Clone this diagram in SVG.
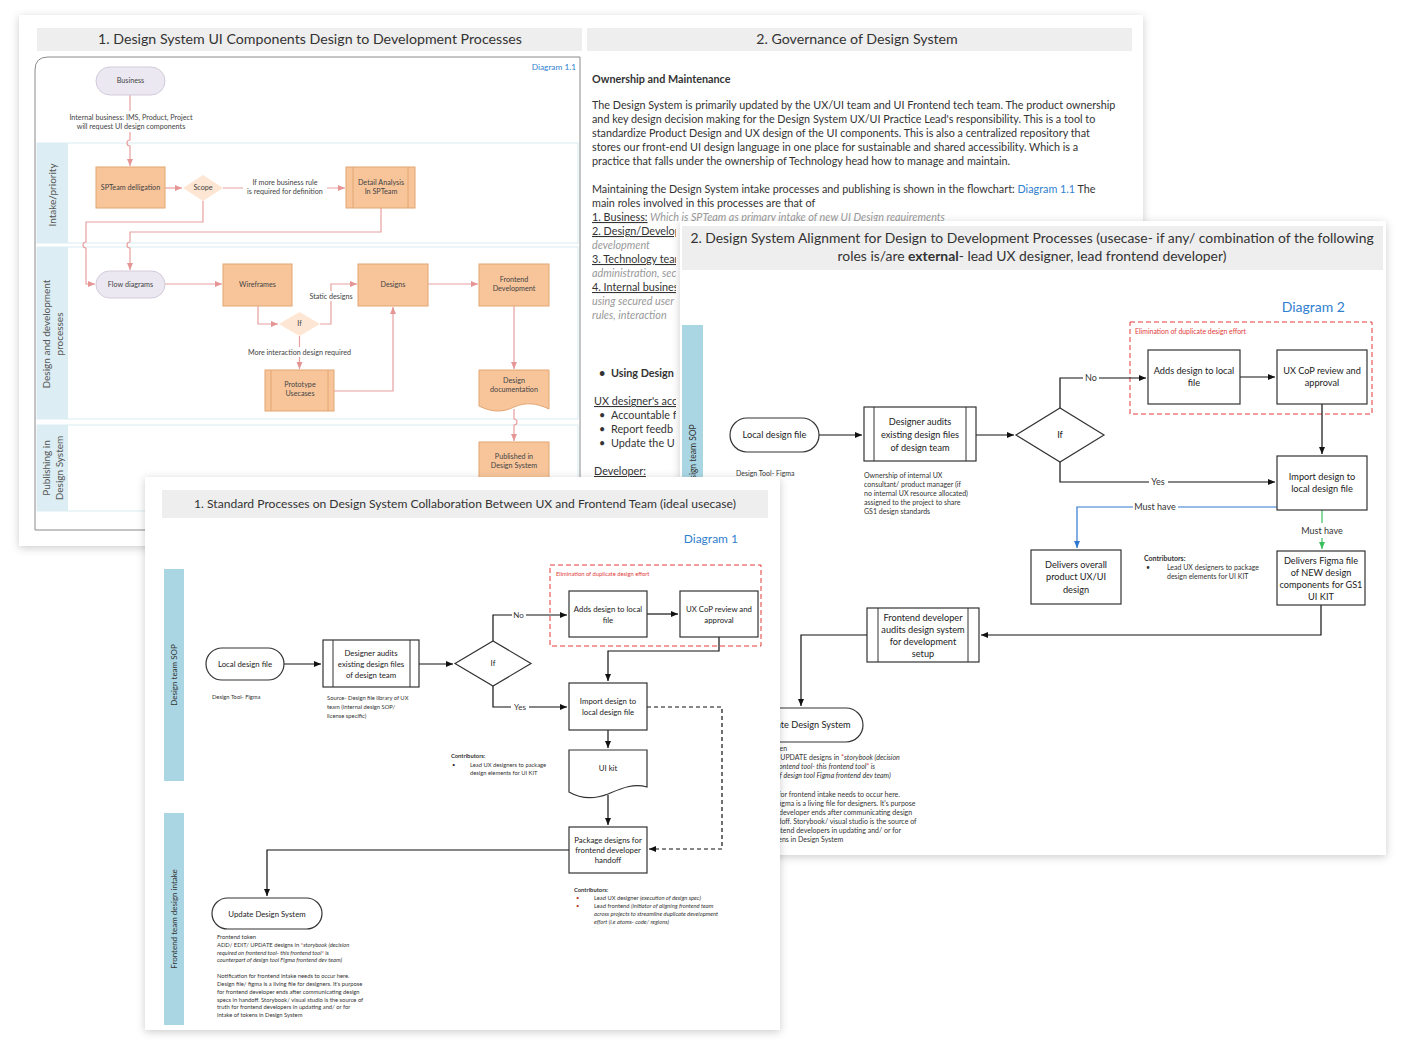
<svg xmlns="http://www.w3.org/2000/svg" width="1404" height="1054" viewBox="0 0 1404 1054">
<defs>
<filter id="sh" x="-5%" y="-5%" width="110%" height="112%">
<feDropShadow dx="0" dy="2" stdDeviation="4" flood-color="#000" flood-opacity="0.2"/>
</filter>
<marker id="ap" markerUnits="userSpaceOnUse" markerWidth="8" markerHeight="8" refX="7" refY="4" orient="auto"><path d="M0,1 L7,4 L0,7 z" fill="#e69595"/></marker>
<marker id="ak" markerUnits="userSpaceOnUse" markerWidth="8" markerHeight="8" refX="7" refY="4" orient="auto"><path d="M0,1 L7,4 L0,7 z" fill="#111"/></marker>
<marker id="ab" markerUnits="userSpaceOnUse" markerWidth="8" markerHeight="8" refX="7" refY="4" orient="auto"><path d="M0,1 L7,4 L0,7 z" fill="#2f78d0"/></marker>
<marker id="ag" markerUnits="userSpaceOnUse" markerWidth="8" markerHeight="8" refX="7" refY="4" orient="auto"><path d="M0,1 L7,4 L0,7 z" fill="#3cbf5f"/></marker>
<clipPath id="clipA"><rect x="585" y="222" width="91" height="260"/></clipPath>
</defs>
<style>
text{font-family:Lato,"Liberation Sans",sans-serif;fill:#333}
.hdr{font-size:14.2px;text-anchor:middle}
.p{font-size:10.8px;fill:#333}
.it{font-style:italic;fill:#999}
.u{text-decoration:underline}
.ca{fill:none;stroke:#e9a0a0;stroke-width:1.2}
.na{fill:#f8c59b;stroke:#e2a673;stroke-width:1}
.da{fill:#fde6d3;stroke:none}
.pa{fill:#ece8f1;stroke:#d2cbdb;stroke-width:1}
.ta{font-size:7.2px;text-anchor:middle;fill:#444}
.lane{fill:none;stroke:#d9ebf2;stroke-width:1}
.bandA{fill:#dcedf3}
.lt{font-size:10px;fill:#555;text-anchor:middle}
.ck{fill:none;stroke:#111;stroke-width:1.2}
.nb{fill:#fff;stroke:#333;stroke-width:1.2}
.tb{font-size:9.2px;text-anchor:middle;fill:#222}
.tc{font-size:7.8px;text-anchor:middle;fill:#222}
.sb{font-size:7px;fill:#333}
.sc{font-size:5.8px;fill:#333}
.band{fill:#aad6e3}
.red{fill:none;stroke:#e23b3b;stroke-width:1;stroke-dasharray:5,3}
.blue{fill:#2f80cf}
</style>

<!-- ================= PAGE A ================= -->
<g id="pageA">
<rect x="19" y="15" width="1124" height="531" fill="#fff" filter="url(#sh)"/>
<rect x="37" y="28" width="545" height="23" fill="#eeeeee"/>
<text class="hdr" x="310" y="44">1. Design System UI Components Design to Development Processes</text>
<rect x="587" y="28" width="545" height="23" fill="#eeeeee"/>
<text class="hdr" x="857" y="44">2. Governance of Design System</text>
<path d="M35,530 V70 Q35,57 48,57 H580 V530 Z" fill="none" stroke="#8a8a8a" stroke-width="1"/>
<text x="576" y="70" font-size="8.3" text-anchor="end" class="blue">Diagram 1.1</text>

<g id="lanesA">
<rect class="lane" x="37" y="143" width="541" height="100"/>
<rect class="bandA" x="37" y="143" width="31" height="100"/>
<text class="lt" transform="translate(56,195) rotate(-90)">Intake/priority</text>
<rect class="lane" x="37" y="247" width="541" height="172"/>
<rect class="bandA" x="37" y="247" width="31" height="172"/>
<text class="lt" transform="translate(50,334) rotate(-90)">Design and development</text>
<text class="lt" transform="translate(63,334) rotate(-90)">processes</text>
<rect class="lane" x="37" y="425" width="541" height="86"/>
<rect class="bandA" x="37" y="425" width="31" height="86"/>
<text class="lt" transform="translate(50,468) rotate(-90)">Publishing in</text>
<text class="lt" transform="translate(63,468) rotate(-90)">Design System</text>
</g>

<g id="connectorsA">
<path class="ca" d="M130,95 V111 M130,132 V140 a3,3 0 0 0 0,6 V166" marker-end="url(#ap)"/>
<path class="ca" d="M165,188 H182" marker-end="url(#ap)"/>
<path class="ca" d="M223,188 H243 M327,188 H345" marker-end="url(#ap)"/>
<path class="ca" d="M203,201 V222 H86 V242 a3,3 0 0 0 0,6 V284 H95" marker-end="url(#ap)"/>
<path class="ca" d="M381,208 V232 H130 V242 a3,3 0 0 0 0,6 V270" marker-end="url(#ap)"/>
<path class="ca" d="M165,284 H222" marker-end="url(#ap)"/>
<path class="ca" d="M258,306 V324 H278" marker-end="url(#ap)"/>
<path class="ca" d="M320,324 H331 V301 M331,291 V284 H357" marker-end="url(#ap)"/>
<path class="ca" d="M299.5,336 V347 M299.5,357 V369" marker-end="url(#ap)"/>
<path class="ca" d="M334,391 H393 V307" marker-end="url(#ap)"/>
<path class="ca" d="M428,284 H478" marker-end="url(#ap)"/>
<path class="ca" d="M514,306 V369" marker-end="url(#ap)"/>
<path class="ca" d="M514,409 V419 a3,3 0 0 1 0,6 V441" marker-end="url(#ap)"/>
<text class="ta" x="131" y="120">Internal business: IMS, Product, Project</text>
<text class="ta" x="131" y="129">will request UI design components</text>
<text class="ta" x="285" y="185">If more business rule</text>
<text class="ta" x="285" y="194">is required for definition</text>
<text class="ta" x="331" y="299">Static designs</text>
<text class="ta" x="299.5" y="355">More interaction design required</text>
</g>

<g id="a-business"><rect class="pa" x="96" y="67" width="69" height="28" rx="14"/><text class="ta" x="130.5" y="83">Business</text></g>
<g id="a-spteam"><rect class="na" x="96" y="167" width="69" height="41"/><text class="ta" x="130.5" y="190">SPTeam delligation</text></g>
<g id="a-scope"><polygon class="da" points="183,188 203,175 223,188 203,201"/><text class="ta" x="203" y="190">Scope</text></g>
<g id="a-detail"><rect class="na" x="346" y="167" width="69" height="41"/><path d="M353,167 V208 M408,167 V208" stroke="#e2a673" fill="none"/><text class="ta" x="381" y="185">Detail Analysis</text><text class="ta" x="381" y="194">In SPTeam</text></g>
<g id="a-flow"><rect class="pa" x="96" y="271" width="69" height="27" rx="13.5"/><text class="ta" x="130.5" y="287">Flow diagrams</text></g>
<g id="a-wire"><rect class="na" x="223" y="264" width="69" height="42"/><text class="ta" x="257.5" y="287">Wireframes</text></g>
<g id="a-if"><polygon class="da" points="279,324 299.5,312 320,324 299.5,336"/><text class="ta" x="299.5" y="326">If</text></g>
<g id="a-designs"><rect class="na" x="358" y="264" width="70" height="42"/><text class="ta" x="393" y="287">Designs</text></g>
<g id="a-frontend"><rect class="na" x="479" y="264" width="70" height="42"/><text class="ta" x="514" y="282">Frontend</text><text class="ta" x="514" y="291">Development</text></g>
<g id="a-proto"><rect class="na" x="265" y="370" width="69" height="41"/><path d="M271,370 V411 M328,370 V411" stroke="#e2a673" fill="none"/><text class="ta" x="300" y="387">Prototype</text><text class="ta" x="300" y="396">Usecases</text></g>
<g id="a-doc"><path class="na" d="M479,370 H549 V409 C536,403 526,402 514,407 C502,413 491,412 479,406 Z"/><text class="ta" x="514" y="383">Design</text><text class="ta" x="514" y="392">documentation</text></g>
<g id="a-published"><rect class="na" x="479" y="442" width="70" height="40"/><text class="ta" x="514" y="459">Published in</text><text class="ta" x="514" y="468">Design System</text></g>

<g id="a-text">
<text class="p" x="592" y="83" font-weight="bold" font-size="10.4">Ownership and Maintenance</text>
<text class="p" x="592" y="109">The Design System is primarily updated by the UX/UI team and UI Frontend tech team. The product ownership</text>
<text class="p" x="592" y="123">and key design decision making for the Design System UX/UI Practice Lead's responsibility. This is a tool to</text>
<text class="p" x="592" y="137">standardize Product Design and UX design of the UI components. This is also a centralized repository that</text>
<text class="p" x="592" y="151">stores our front-end UI design language in one place for sustainable and shared accessibility. Which is a</text>
<text class="p" x="592" y="165">practice that falls under the ownership of Technology head how to manage and maintain.</text>
<text class="p" x="592" y="193">Maintaining the Design System intake processes and publishing is shown in the flowchart: <tspan class="blue">Diagram 1.1</tspan> The</text>
<text class="p" x="592" y="207">main roles involved in this processes are that of</text>
<text class="p" x="592" y="221"><tspan class="u">1. Business:</tspan><tspan class="it"> Which is SPTeam as primary intake of new UI Design requirements</tspan></text>
<g clip-path="url(#clipA)">
<text class="p u" x="592" y="235">2. Design/Develop</text>
<text class="p it" x="592" y="249">development</text>
<text class="p u" x="592" y="263">3. Technology team</text>
<text class="p it" x="592" y="277">administration, sec</text>
<text class="p u" x="592" y="291">4. Internal busines</text>
<text class="p it" x="592" y="305">using secured user</text>
<text class="p it" x="592" y="319">rules, interaction</text>
<text class="p" x="599" y="377" font-weight="bold">•</text>
<text class="p" x="611" y="377" font-weight="bold">Using Design</text>
<text class="p u" x="594" y="405">UX designer's acc</text>
<text class="p" x="599" y="419">•</text><text class="p" x="611" y="419">Accountable f</text>
<text class="p" x="599" y="433">•</text><text class="p" x="611" y="433">Report feedb</text>
<text class="p" x="599" y="447">•</text><text class="p" x="611" y="447">Update the U</text>
<text class="p u" x="594" y="475">Developer:</text>
</g>
</g>
</g>

<!-- ================= PAGE B ================= -->
<g id="pageB">
<rect x="680" y="221" width="706" height="634" fill="#fff" filter="url(#sh)"/>
<rect x="682" y="226" width="701" height="44" fill="#eeeeee"/>
<text x="1032" y="243" font-size="13.9" text-anchor="middle">2. Design System Alignment for Design to Development Processes (usecase- if any/ combination of the following</text>
<text x="1032" y="261" font-size="13.9" text-anchor="middle">roles is/are <tspan font-weight="bold">external</tspan>- lead UX designer, lead frontend developer)</text>
<text x="1345" y="312" font-size="14" text-anchor="end" class="blue">Diagram 2</text>
<rect class="band" x="682" y="325" width="21" height="380"/>
<text font-size="8.5" text-anchor="middle" transform="translate(696,457) rotate(-90)">Design team SOP</text>
<rect class="red" x="1130" y="322" width="242" height="92"/>
<text x="1135" y="334" font-size="6.9" style="fill:#e23b3b">Elimination of duplicate design effort</text>

<g id="connectorsB">
<path class="ck" d="M819,435 H862" marker-end="url(#ak)"/>
<path class="ck" d="M976,435 H1014" marker-end="url(#ak)"/>
<path class="ck" d="M1060,408 V378 H1083 M1099,378 H1146" marker-end="url(#ak)"/>
<path class="ck" d="M1240,377 H1275" marker-end="url(#ak)"/>
<path class="ck" d="M1322,404 V454" marker-end="url(#ak)"/>
<path class="ck" d="M1060,462 V482 H1149 M1168,482 H1275" marker-end="url(#ak)"/>
<path d="M1277,507 H1178 M1133,507 H1077 V548" fill="none" stroke="#2f78d0" stroke-width="1.2" marker-end="url(#ab)"/>
<path d="M1322,510 V523 M1322,538 V549" fill="none" stroke="#3cbf5f" stroke-width="1.2" marker-end="url(#ag)"/>
<path class="ck" d="M1321,605 V635 H981" marker-end="url(#ak)"/>
<path class="ck" d="M867,635 H801 V706" marker-end="url(#ak)"/>
<text x="1091" y="381" font-size="9" text-anchor="middle">No</text>
<text x="1158" y="485" font-size="9" text-anchor="middle">Yes</text>
<text x="1155" y="510" font-size="9" text-anchor="middle">Must have</text>
<text x="1322" y="534" font-size="9" text-anchor="middle">Must have</text>
</g>

<g id="b-local"><rect class="nb" x="730" y="418" width="89" height="34" rx="17"/><text class="tb" x="774.5" y="438">Local design file</text></g>
<text class="sb" x="736" y="476" font-size="6">Design Tool- Figma</text>
<g id="b-audits"><rect class="nb" x="864" y="407" width="112" height="54"/><path d="M874,407 V461 M966,407 V461" stroke="#333" fill="none"/><text class="tb" x="920" y="425">Designer audits</text><text class="tb" x="920" y="438">existing design files</text><text class="tb" x="920" y="451">of design team</text></g>
<g id="b-owner-note">
<text class="sb" x="864" y="478">Ownership of internal UX</text>
<text class="sb" x="864" y="487">consultant/ product manager (if</text>
<text class="sb" x="864" y="496">no internal UX resource allocated)</text>
<text class="sb" x="864" y="505">assigned to the project to share</text>
<text class="sb" x="864" y="514">GS1 design standards</text>
</g>
<g id="b-if"><polygon class="nb" points="1016,435 1060,408 1104,435 1060,462"/><text class="tb" x="1060" y="438">If</text></g>
<g id="b-adds"><rect class="nb" x="1148" y="350" width="92" height="54"/><text class="tb" x="1194" y="374">Adds design to local</text><text class="tb" x="1194" y="386">file</text></g>
<g id="b-uxcop"><rect class="nb" x="1277" y="350" width="90" height="54"/><text class="tb" x="1322" y="374">UX CoP review and</text><text class="tb" x="1322" y="386">approval</text></g>
<g id="b-import"><rect class="nb" x="1277" y="456" width="90" height="54"/><text class="tb" x="1322" y="480">Import design to</text><text class="tb" x="1322" y="492">local design file</text></g>
<g id="b-overall"><rect class="nb" x="1031" y="550" width="90" height="54"/><text class="tb" x="1076" y="568">Delivers overall</text><text class="tb" x="1076" y="580">product UX/UI</text><text class="tb" x="1076" y="593">design</text></g>
<g id="b-contrib">
<text class="sb" x="1144" y="561" font-weight="bold">Contributors:</text>
<text class="sb" x="1146" y="570">•</text>
<text class="sb" x="1167" y="570" font-size="7.4">Lead UX designers to package</text>
<text class="sb" x="1167" y="579" font-size="7.4">design elements for UI KIT</text>
</g>
<g id="b-figma"><rect class="nb" x="1277" y="551" width="88" height="54"/><text class="tb" x="1321" y="564">Delivers Figma file</text><text class="tb" x="1321" y="576">of NEW design</text><text class="tb" x="1321" y="588">components for GS1</text><text class="tb" x="1321" y="600">UI KIT</text></g>
<g id="b-frontend"><rect class="nb" x="867" y="608" width="112" height="54"/><path d="M878,608 V662 M968,608 V662" stroke="#333" fill="none"/><text class="tb" x="923" y="621" font-size="9.6">Frontend developer</text><text class="tb" x="923" y="633" font-size="9.6">audits design system</text><text class="tb" x="923" y="645" font-size="9.6">for development</text><text class="tb" x="923" y="657" font-size="9.6">setup</text></g>
<g id="b-update"><rect class="nb" x="739" y="708" width="124" height="34" rx="17"/><text class="tb" x="805" y="728" font-size="9.6">Update Design System</text></g>
<g id="b-notes">
<text class="sb" x="740" y="751" font-size="7">Frontend token</text>
<text class="sb" x="740" y="760" font-size="7">ADD/ EDIT/ UPDATE designs in <tspan style="fill:#e23b3b">*</tspan><tspan font-style="italic">storybook (decision</tspan></text>
<text class="sb" x="740" y="769" font-size="7" font-style="italic">required on frontend tool- this frontend tool<tspan style="fill:#e23b3b">*</tspan> is</text>
<text class="sb" x="740" y="778" font-size="7" font-style="italic">counterpart of design tool Figma frontend dev team)</text>
<text class="sb" x="740" y="797" font-size="7">Notification for frontend intake needs to occur here.</text>
<text class="sb" x="740" y="806" font-size="7">Design file/ figma is a living file for designers. It's purpose</text>
<text class="sb" x="740" y="815" font-size="7">for frontend developer ends after communicating design</text>
<text class="sb" x="740" y="824" font-size="7">specs in handoff. Storybook/ visual studio is the source of</text>
<text class="sb" x="740" y="833" font-size="7">truth for frontend developers in updating and/ or for</text>
<text class="sb" x="740" y="842" font-size="7">intake of tokens in Design System</text>
</g>
</g>

<!-- ================= PAGE C ================= -->
<g id="pageC">
<rect x="145" y="477" width="635" height="553" fill="#fff" filter="url(#sh)"/>
<rect x="162" y="490" width="606" height="28" fill="#eeeeee"/>
<text x="465" y="508" font-size="12.1" text-anchor="middle">1. Standard Processes on Design System Collaboration Between UX and Frontend Team (ideal usecase)</text>
<text x="738" y="543" font-size="12" text-anchor="end" class="blue">Diagram 1</text>
<rect class="band" x="164" y="569" width="20" height="212"/>
<text font-size="8" text-anchor="middle" transform="translate(177,675) rotate(-90)">Design team SOP</text>
<rect class="band" x="164" y="813" width="20" height="212"/>
<text font-size="8" text-anchor="middle" transform="translate(177,919) rotate(-90)">Frontend team design intake</text>
<rect class="red" x="550" y="565" width="211" height="81"/>
<text x="556" y="576" font-size="5.8" style="fill:#e23b3b">Elimination of duplicate design effort</text>

<g id="connectorsC">
<path class="ck" d="M284,664 H321" marker-end="url(#ak)"/>
<path class="ck" d="M419,664 H453" marker-end="url(#ak)"/>
<path class="ck" d="M493,641 V615 H512 M526,615 H567" marker-end="url(#ak)"/>
<path class="ck" d="M647,614 H678" marker-end="url(#ak)"/>
<path class="ck" d="M719,637 V651 H608 V681" marker-end="url(#ak)"/>
<path class="ck" d="M493,686 V707 H511 M529,707 H567" marker-end="url(#ak)"/>
<path class="ck" d="M647,707 H722 V849 H649" stroke-dasharray="4,3" marker-end="url(#ak)"/>
<path class="ck" d="M608,730 V748" marker-end="url(#ak)"/>
<path class="ck" d="M608,795 V825" marker-end="url(#ak)"/>
<path class="ck" d="M569,850 H267 V896" marker-end="url(#ak)"/>
<text x="518.5" y="618" font-size="8" text-anchor="middle">No</text>
<text x="520" y="710" font-size="8" text-anchor="middle">Yes</text>
</g>

<g id="c-local"><rect class="nb" x="206" y="648" width="78" height="32" rx="16"/><text class="tc" x="245" y="667">Local design file</text></g>
<text class="sc" x="212" y="699">Design Tool- Figma</text>
<g id="c-audits"><rect class="nb" x="323" y="640" width="96" height="47"/><path d="M333,640 V687 M410,640 V687" stroke="#333" fill="none"/><text class="tc" x="371" y="656">Designer audits</text><text class="tc" x="371" y="667">existing design files</text><text class="tc" x="371" y="678">of design team</text></g>
<g id="c-source">
<text class="sc" x="327" y="700">Source- Design file library of UX</text>
<text class="sc" x="327" y="709">team (internal design SOP/</text>
<text class="sc" x="327" y="718">license specific)</text>
</g>
<g id="c-if"><polygon class="nb" points="455,663.5 493,641 531,663.5 493,686"/><text class="tc" x="493" y="666">If</text></g>
<g id="c-adds"><rect class="nb" x="569" y="591" width="78" height="46"/><text class="tc" x="608" y="612">Adds design to local</text><text class="tc" x="608" y="623">file</text></g>
<g id="c-uxcop"><rect class="nb" x="680" y="591" width="78" height="46"/><text class="tc" x="719" y="612">UX CoP review and</text><text class="tc" x="719" y="623">approval</text></g>
<g id="c-import"><rect class="nb" x="569" y="683" width="78" height="47"/><text class="tc" x="608" y="704">Import design to</text><text class="tc" x="608" y="715">local design file</text></g>
<g id="c-uikit"><path class="nb" d="M569,750 H647 V787 C632,783 620,789 608,794 C595,799 581,799 569,792 Z"/><text class="tc" x="608" y="771">UI kit</text></g>
<g id="c-contrib1">
<text class="sc" x="451" y="758" font-weight="bold">Contributors:</text>
<text class="sc" x="452" y="767">•</text>
<text class="sc" x="470" y="767">Lead UX designers to package</text>
<text class="sc" x="470" y="775">design elements for UI KIT</text>
</g>
<g id="c-package"><rect class="nb" x="569" y="827" width="78" height="46"/><text class="tc" x="608" y="843" font-size="8.2">Package designs for</text><text class="tc" x="608" y="853" font-size="8.2">frontend developer</text><text class="tc" x="608" y="863" font-size="8.2">handoff</text></g>
<g id="c-contrib2">
<text class="sc" x="574" y="892" font-weight="bold">Contributors:</text>
<text class="sc" x="576" y="900" style="fill:#c0392b">•</text>
<text class="sc" x="594" y="900" font-size="6.4">Lead UX designer <tspan font-style="italic">(execution of design spec)</tspan></text>
<text class="sc" x="576" y="908" style="fill:#c0392b">•</text>
<text class="sc" x="594" y="908" font-size="6.4">Lead frontend <tspan font-style="italic">(initiator of aligning frontend team</tspan></text>
<text class="sc" x="594" y="916" font-size="6.4" font-style="italic">across projects to streamline duplicate development</text>
<text class="sc" x="594" y="924" font-size="6.4" font-style="italic">effort (i.e atoms- code/ regions)</text>
</g>
<g id="c-update"><rect class="nb" x="212" y="898" width="110" height="31" rx="15.5"/><text class="tc" x="267" y="917" font-size="8.5">Update Design System</text></g>
<g id="c-notes">
<text class="sc" x="217" y="939">Frontend token</text>
<text class="sc" x="217" y="946.5">ADD/ EDIT/ UPDATE designs in <tspan style="fill:#e23b3b">*</tspan><tspan font-style="italic">storybook (decision</tspan></text>
<text class="sc" x="217" y="954.5" font-style="italic">required on frontend tool- this frontend tool<tspan style="fill:#e23b3b">*</tspan> is</text>
<text class="sc" x="217" y="962" font-style="italic">counterpart of design tool Figma frontend dev team)</text>
<text class="sc" x="217" y="978">Notification for frontend intake needs to occur here.</text>
<text class="sc" x="217" y="986">Design file/ figma is a living file for designers. It's purpose</text>
<text class="sc" x="217" y="993.5">for frontend developer ends after communicating design</text>
<text class="sc" x="217" y="1001.5">specs in handoff. Storybook/ visual studio is the source of</text>
<text class="sc" x="217" y="1009">truth for frontend developers in updating and/ or for</text>
<text class="sc" x="217" y="1017">intake of tokens in Design System</text>
</g>
</g>
</svg>
